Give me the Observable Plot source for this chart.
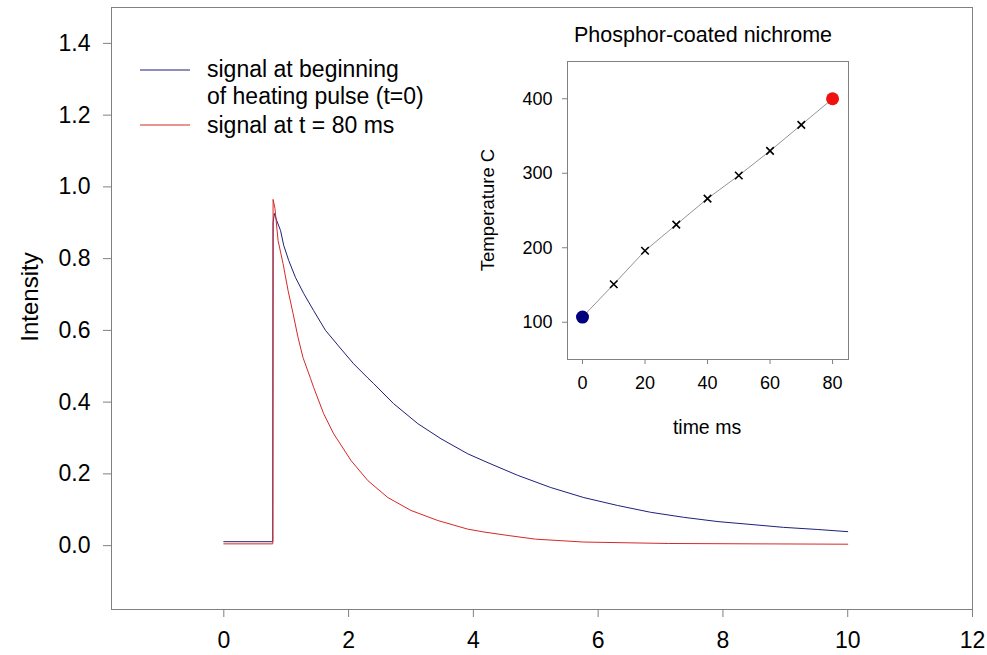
<!DOCTYPE html>
<html><head><meta charset="utf-8">
<script src="https://cdn.jsdelivr.net/npm/d3@7"></script>
<script src="https://cdn.jsdelivr.net/npm/@observablehq/plot@0.6"></script>
<style>
body{margin:0;background:#fff;font-family:"Liberation Sans",Arial,sans-serif;}
#wrap{position:relative;width:987px;height:655px;overflow:hidden;}
#wrap svg{position:absolute;}
.abs{position:absolute;white-space:nowrap;color:#000;}
.rot{transform:translate(-50%,-50%) rotate(-90deg);}
.ctr{transform:translate(-50%,-50%);}
</style></head>
<body>
<div id="wrap"></div>
<script>
// ---- main chart data (time in ms, intensity) ----
const blueT = [0, 0.78, 0.785, 0.79, 0.81, 0.85, 0.91, 0.96, 1.04, 1.15, 1.28, 1.44, 1.63, 1.88, 2.08, 2.31, 2.40, 2.72, 3.11, 3.48, 3.91, 4.17, 4.33, 4.71, 5.24, 5.77, 6.31, 6.84, 7.37, 7.92, 8.45, 8.97, 9.52, 10.0];
const blueV = [0.011, 0.011, 0.011, 0.90, 0.926, 0.905, 0.878, 0.837, 0.795, 0.747, 0.703, 0.655, 0.600, 0.548, 0.507, 0.467, 0.452, 0.396, 0.340, 0.298, 0.256, 0.236, 0.224, 0.196, 0.162, 0.134, 0.112, 0.093, 0.079, 0.067, 0.059, 0.051, 0.045, 0.039];
const redT = [0, 0.78, 0.785, 0.79, 0.82, 0.87, 0.95, 1.03, 1.11, 1.19, 1.27, 1.39, 1.44, 1.60, 1.76, 2.04, 2.31, 2.63, 3.00, 3.43, 3.91, 4.17, 4.57, 5.00, 5.77, 7.13, 8.5, 10.0];
const redV = [0.005, 0.005, 0.005, 0.965, 0.94, 0.85, 0.786, 0.711, 0.647, 0.580, 0.524, 0.466, 0.441, 0.368, 0.312, 0.237, 0.181, 0.134, 0.098, 0.070, 0.046, 0.038, 0.028, 0.018, 0.010, 0.006, 0.005, 0.004];
const xTicks = [0, 2, 4, 6, 8, 10, 12];
const yTicks = [0, 0.2, 0.4, 0.6, 0.8, 1.0, 1.2, 1.4];
const seriesNames = ["signal at beginning\nof heating pulse (t=0)", "signal at t = 80 ms"];

// ---- inset data ----
const insetTime = [0, 10, 20, 30, 40, 50, 60, 70, 80];
const insetTemp = [107, 151, 196, 231, 266, 297, 330, 365, 400];
const insetXTicks = [0, 20, 40, 60, 80];
const insetYTicks = [100, 200, 300, 400];

const BLUE = "#1f1f7a", RED = "#d62828", GREY = "#808080";

const blue = blueT.map((t, i) => ({t, v: blueV[i]}));
const red = redT.map((t, i) => ({t, v: redV[i]}));

const main = Plot.plot({
  width: 987, height: 655,
  marginLeft: 111, marginRight: 15, marginTop: 7, marginBottom: 46,
  style: {fontFamily: "Liberation Sans, Arial, sans-serif", fontSize: "23px", color: "#000", background: "transparent"},
  x: {domain: [-1.8, 12]},
  y: {domain: [-0.178, 1.5]},
  marks: [
    Plot.frame({stroke: GREY}),
    Plot.axisX({ticks: xTicks, tickSize: 8, tickPadding: 14, stroke: GREY, fill: "#000", fontSize: 23, label: null}),
    Plot.axisY({ticks: yTicks, tickSize: 8, tickPadding: 13, stroke: GREY, fill: "#000", fontSize: 23, tickFormat: d3.format(".1f"), label: null}),
    Plot.line(blue, {x: "t", y: "v", stroke: BLUE, strokeWidth: 1}),
    Plot.line(red, {x: "t", y: "v", stroke: RED, strokeWidth: 1})
  ]
});
main.style.left = "0px"; main.style.top = "0px";

const pts = insetTime.map((t, i) => ({t, T: insetTemp[i]}));
const mid = pts.slice(1, -1);
const inset = Plot.plot({
  width: 390, height: 430,
  marginLeft: 97, marginRight: 12, marginTop: 51, marginBottom: 81,
  style: {fontFamily: "Liberation Sans, Arial, sans-serif", fontSize: "18px", color: "#000", background: "#fff"},
  x: {domain: [-4.8, 85.1]},
  y: {domain: [50, 450]},
  marks: [
    Plot.frame({stroke: GREY, fill: "#fff"}),
    Plot.axisX({ticks: insetXTicks, tickSize: 5, tickPadding: 12, stroke: GREY, fill: "#000", fontSize: 18, label: null}),
    Plot.axisY({ticks: insetYTicks, tickSize: 5, tickPadding: 10, stroke: GREY, fill: "#000", fontSize: 18, label: null}),
    Plot.line(pts, {x: "t", y: "T", stroke: "#777", strokeWidth: 0.8}),
    Plot.dot(mid, {x: "t", y: "T", symbol: "times", r: 3.5, stroke: "#000", strokeWidth: 1.6}),
    Plot.dot(pts.slice(0, 1), {x: "t", y: "T", r: 6.5, fill: "#00007f", stroke: "none"}),
    Plot.dot(pts.slice(-1), {x: "t", y: "T", r: 6.5, fill: "#f01010", stroke: "none"})
  ]
});
inset.style.left = "470px"; inset.style.top = "10px";

const wrap = document.getElementById("wrap");
wrap.appendChild(main);
wrap.appendChild(inset);

function addText(txt, css, cls) {
  const d = document.createElement("div");
  d.className = "abs " + (cls || "");
  d.textContent = txt;
  Object.assign(d.style, css);
  wrap.appendChild(d);
  return d;
}
// axis titles
addText("Intensity", {left: "30px", top: "297px", fontSize: "24px"}, "rot");
addText("Temperature C", {left: "488px", top: "210px", fontSize: "18.5px"}, "rot");
addText("time ms", {left: "707px", top: "427px", fontSize: "19.5px"}, "ctr");
addText("Phosphor-coated nichrome", {left: "703px", top: "35px", fontSize: "21.5px"}, "ctr");

// legend swatches (inline SVG)
const NS = "http://www.w3.org/2000/svg";
const leg = document.createElementNS(NS, "svg");
leg.setAttribute("width", "60"); leg.setAttribute("height", "70");
leg.style.left = "135px"; leg.style.top = "60px";
[[BLUE, 10], [RED, 65]].forEach(([c, y]) => {
  const l = document.createElementNS(NS, "line");
  l.setAttribute("x1", 5); l.setAttribute("x2", 55);
  l.setAttribute("y1", y); l.setAttribute("y2", y);
  l.setAttribute("stroke", c); l.setAttribute("stroke-width", 1.2);
  leg.appendChild(l);
});
wrap.appendChild(leg);
const lines1 = seriesNames[0].split("\n");
addText(lines1[0], {left: "207px", top: "56px", fontSize: "23px", lineHeight: "27px"});
addText(lines1[1], {left: "207px", top: "83px", fontSize: "23px", lineHeight: "27px"});
addText(seriesNames[1], {left: "207px", top: "112px", fontSize: "23px", lineHeight: "27px"});
</script>
</body></html>
